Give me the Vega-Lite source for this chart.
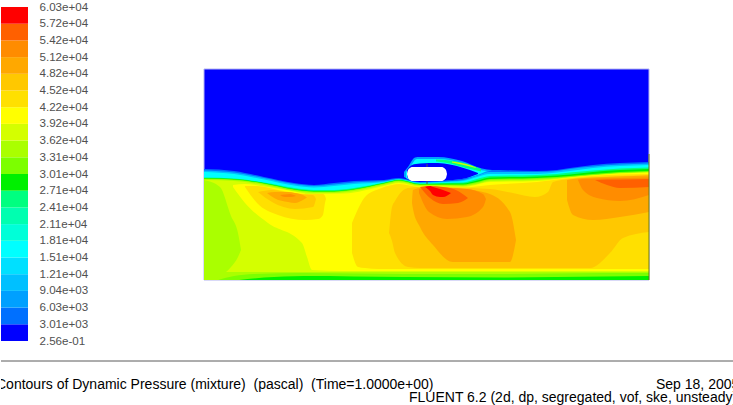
{"$schema":"https://vega.github.io/schema/vega-lite/v6.json","background":"white","padding":{"left":0,"top":1,"right":0,"bottom":0},"config":{"view":{"stroke":null},"font":"Liberation Sans"},"spacing":13,
"datasets":{"contours":[
{"r":"b1","l":"c1","x":0,"y":100,"y2":211},{"r":"b1","l":"c1","x":30,"y":102,"y2":211},{"r":"b1","l":"c1","x":60,"y":108,"y2":211},{"r":"b1","l":"c1","x":90,"y":114,"y2":211},{"r":"b1","l":"c1","x":110,"y":116,"y2":211},{"r":"b1","l":"c1","x":130,"y":114,"y2":211},{"r":"b1","l":"c1","x":150,"y":112,"y2":211},{"r":"b1","l":"c1","x":180,"y":111,"y2":211},{"r":"b1","l":"c1","x":195,"y":109,"y2":211},{"r":"b1","l":"c1","x":216,"y":113,"y2":211},{"r":"b1","l":"c1","x":236,"y":112,"y2":211},{"r":"b1","l":"c1","x":259,"y":110,"y2":211},{"r":"b1","l":"c1","x":273,"y":105,"y2":211},{"r":"b1","l":"c1","x":286,"y":101,"y2":211},{"r":"b1","l":"c1","x":333,"y":102,"y2":211},{"r":"b1","l":"c1","x":353,"y":101,"y2":211},{"r":"b1","l":"c1","x":366,"y":99,"y2":211},{"r":"b1","l":"c1","x":389,"y":96,"y2":211},{"r":"b1","l":"c1","x":416,"y":94,"y2":211},{"r":"b1","l":"c1","x":445,"y":93,"y2":211},
{"r":"b2","l":"c3","x":0,"y":101.5,"y2":211},{"r":"b2","l":"c3","x":30,"y":103.5,"y2":211},{"r":"b2","l":"c3","x":60,"y":109,"y2":211},{"r":"b2","l":"c3","x":90,"y":115,"y2":211},{"r":"b2","l":"c3","x":110,"y":117,"y2":211},{"r":"b2","l":"c3","x":130,"y":115.5,"y2":211},{"r":"b2","l":"c3","x":150,"y":113.5,"y2":211},{"r":"b2","l":"c3","x":180,"y":112,"y2":211},{"r":"b2","l":"c3","x":195,"y":110,"y2":211},{"r":"b2","l":"c3","x":216,"y":113.5,"y2":211},{"r":"b2","l":"c3","x":236,"y":112.7,"y2":211},{"r":"b2","l":"c3","x":259,"y":111,"y2":211},{"r":"b2","l":"c3","x":273,"y":106.5,"y2":211},{"r":"b2","l":"c3","x":286,"y":103,"y2":211},{"r":"b2","l":"c3","x":333,"y":103,"y2":211},{"r":"b2","l":"c3","x":353,"y":102,"y2":211},{"r":"b2","l":"c3","x":366,"y":100,"y2":211},{"r":"b2","l":"c3","x":389,"y":97.5,"y2":211},{"r":"b2","l":"c3","x":416,"y":95.5,"y2":211},{"r":"b2","l":"c3","x":445,"y":94.5,"y2":211},
{"r":"b3","l":"c5","x":0,"y":103,"y2":211},{"r":"b3","l":"c5","x":30,"y":105,"y2":211},{"r":"b3","l":"c5","x":60,"y":110.5,"y2":211},{"r":"b3","l":"c5","x":90,"y":116.5,"y2":211},{"r":"b3","l":"c5","x":110,"y":118.5,"y2":211},{"r":"b3","l":"c5","x":130,"y":117,"y2":211},{"r":"b3","l":"c5","x":150,"y":115,"y2":211},{"r":"b3","l":"c5","x":180,"y":113,"y2":211},{"r":"b3","l":"c5","x":195,"y":110.5,"y2":211},{"r":"b3","l":"c5","x":216,"y":114,"y2":211},{"r":"b3","l":"c5","x":236,"y":113.3,"y2":211},{"r":"b3","l":"c5","x":259,"y":112,"y2":211},{"r":"b3","l":"c5","x":273,"y":108,"y2":211},{"r":"b3","l":"c5","x":286,"y":105,"y2":211},{"r":"b3","l":"c5","x":333,"y":105,"y2":211},{"r":"b3","l":"c5","x":353,"y":103.5,"y2":211},{"r":"b3","l":"c5","x":366,"y":102,"y2":211},{"r":"b3","l":"c5","x":389,"y":99,"y2":211},{"r":"b3","l":"c5","x":416,"y":97,"y2":211},{"r":"b3","l":"c5","x":445,"y":96,"y2":211},
{"r":"b4","l":"c8","x":0,"y":108.5,"y2":211},{"r":"b4","l":"c8","x":30,"y":109.5,"y2":211},{"r":"b4","l":"c8","x":60,"y":113.5,"y2":211},{"r":"b4","l":"c8","x":90,"y":119,"y2":211},{"r":"b4","l":"c8","x":110,"y":121,"y2":211},{"r":"b4","l":"c8","x":130,"y":121,"y2":211},{"r":"b4","l":"c8","x":150,"y":119,"y2":211},{"r":"b4","l":"c8","x":180,"y":113.5,"y2":211},{"r":"b4","l":"c8","x":195,"y":110.5,"y2":211},{"r":"b4","l":"c8","x":216,"y":114.5,"y2":211},{"r":"b4","l":"c8","x":236,"y":114,"y2":211},{"r":"b4","l":"c8","x":259,"y":113.5,"y2":211},{"r":"b4","l":"c8","x":273,"y":110,"y2":211},{"r":"b4","l":"c8","x":286,"y":107,"y2":211},{"r":"b4","l":"c8","x":333,"y":106,"y2":211},{"r":"b4","l":"c8","x":353,"y":105,"y2":211},{"r":"b4","l":"c8","x":366,"y":103.5,"y2":211},{"r":"b4","l":"c8","x":389,"y":101.5,"y2":211},{"r":"b4","l":"c8","x":416,"y":99.5,"y2":211},{"r":"b4","l":"c8","x":445,"y":98.5,"y2":211},
{"r":"b5","l":"c9","x":0,"y":109,"y2":211},{"r":"b5","l":"c9","x":30,"y":110,"y2":211},{"r":"b5","l":"c9","x":60,"y":114,"y2":211},{"r":"b5","l":"c9","x":90,"y":120,"y2":211},{"r":"b5","l":"c9","x":110,"y":122,"y2":211},{"r":"b5","l":"c9","x":130,"y":122,"y2":211},{"r":"b5","l":"c9","x":150,"y":120,"y2":211},{"r":"b5","l":"c9","x":180,"y":114,"y2":211},{"r":"b5","l":"c9","x":195,"y":111,"y2":211},{"r":"b5","l":"c9","x":216,"y":115,"y2":211},{"r":"b5","l":"c9","x":236,"y":114.7,"y2":211},{"r":"b5","l":"c9","x":259,"y":114.5,"y2":211},{"r":"b5","l":"c9","x":273,"y":111.5,"y2":211},{"r":"b5","l":"c9","x":286,"y":108.5,"y2":211},{"r":"b5","l":"c9","x":333,"y":107.5,"y2":211},{"r":"b5","l":"c9","x":353,"y":106.5,"y2":211},{"r":"b5","l":"c9","x":366,"y":105.5,"y2":211},{"r":"b5","l":"c9","x":389,"y":103,"y2":211},{"r":"b5","l":"c9","x":416,"y":101,"y2":211},{"r":"b5","l":"c9","x":445,"y":100,"y2":211},
{"r":"b6","l":"c10","x":0,"y":109.5,"y2":211},{"r":"b6","l":"c10","x":30,"y":110.5,"y2":211},{"r":"b6","l":"c10","x":60,"y":114.5,"y2":211},{"r":"b6","l":"c10","x":90,"y":120.5,"y2":211},{"r":"b6","l":"c10","x":110,"y":122.5,"y2":211},{"r":"b6","l":"c10","x":130,"y":122.5,"y2":211},{"r":"b6","l":"c10","x":150,"y":120.5,"y2":211},{"r":"b6","l":"c10","x":180,"y":114.5,"y2":211},{"r":"b6","l":"c10","x":195,"y":111.5,"y2":211},{"r":"b6","l":"c10","x":216,"y":115.5,"y2":211},{"r":"b6","l":"c10","x":236,"y":115.5,"y2":211},{"r":"b6","l":"c10","x":259,"y":115.5,"y2":211},{"r":"b6","l":"c10","x":273,"y":113,"y2":211},{"r":"b6","l":"c10","x":286,"y":110,"y2":211},{"r":"b6","l":"c10","x":333,"y":109,"y2":211},{"r":"b6","l":"c10","x":353,"y":108,"y2":211},{"r":"b6","l":"c10","x":366,"y":107,"y2":211},{"r":"b6","l":"c10","x":389,"y":105,"y2":211},{"r":"b6","l":"c10","x":416,"y":103,"y2":211},{"r":"b6","l":"c10","x":445,"y":102,"y2":211},
{"r":"b7","l":"c11","x":0,"y":110,"y2":211},{"r":"b7","l":"c11","x":30,"y":111,"y2":211},{"r":"b7","l":"c11","x":60,"y":115,"y2":211},{"r":"b7","l":"c11","x":90,"y":121,"y2":211},{"r":"b7","l":"c11","x":110,"y":123,"y2":211},{"r":"b7","l":"c11","x":130,"y":123,"y2":211},{"r":"b7","l":"c11","x":150,"y":121,"y2":211},{"r":"b7","l":"c11","x":180,"y":115,"y2":211},{"r":"b7","l":"c11","x":195,"y":112,"y2":211},{"r":"b7","l":"c11","x":216,"y":116,"y2":211},{"r":"b7","l":"c11","x":236,"y":116,"y2":211},{"r":"b7","l":"c11","x":259,"y":116.5,"y2":211},{"r":"b7","l":"c11","x":273,"y":114,"y2":211},{"r":"b7","l":"c11","x":286,"y":111,"y2":211},{"r":"b7","l":"c11","x":333,"y":110,"y2":211},{"r":"b7","l":"c11","x":353,"y":109,"y2":211},{"r":"b7","l":"c11","x":366,"y":108,"y2":211},{"r":"b7","l":"c11","x":389,"y":106,"y2":211},{"r":"b7","l":"c11","x":416,"y":104,"y2":211},{"r":"b7","l":"c11","x":445,"y":103,"y2":211},
{"r":"g12","l":"c12","x":0,"y":111,"y2":203},{"r":"g12","l":"c12","x":30,"y":112,"y2":203},{"r":"g12","l":"c12","x":60,"y":116,"y2":203},{"r":"g12","l":"c12","x":90,"y":122,"y2":203},{"r":"g12","l":"c12","x":110,"y":124,"y2":203},{"r":"g12","l":"c12","x":130,"y":124,"y2":203},{"r":"g12","l":"c12","x":150,"y":122,"y2":203},{"r":"g12","l":"c12","x":180,"y":116,"y2":203},{"r":"g12","l":"c12","x":195,"y":113,"y2":203},{"r":"g12","l":"c12","x":216,"y":116.5,"y2":203},{"r":"g12","l":"c12","x":236,"y":116.5,"y2":203},{"r":"g12","l":"c12","x":259,"y":117,"y2":203},{"r":"g12","l":"c12","x":273,"y":115,"y2":203},{"r":"g12","l":"c12","x":286,"y":112,"y2":203},{"r":"g12","l":"c12","x":333,"y":111,"y2":203},{"r":"g12","l":"c12","x":353,"y":109.5,"y2":203},{"r":"g12","l":"c12","x":366,"y":108.3,"y2":203},{"r":"g12","l":"c12","x":389,"y":106.3,"y2":203},{"r":"g12","l":"c12","x":416,"y":104.3,"y2":203},{"r":"g12","l":"c12","x":445,"y":103.3,"y2":203},
{"r":"left","l":"c11","x":0,"y":111,"y2":211},{"r":"left","l":"c11","x":16,"y":118,"y2":207},{"r":"left","l":"c11","x":27,"y":147,"y2":198},{"r":"left","l":"c11","x":34,"y":164,"y2":188},{"r":"left","l":"c11","x":37,"y":181,"y2":181},
{"r":"g13","l":"c13","x":29,"y":116,"y2":118},{"r":"g13","l":"c13","x":41,"y":115,"y2":134},{"r":"g13","l":"c13","x":64,"y":118,"y2":154},{"r":"g13","l":"c13","x":98,"y":124,"y2":174},{"r":"g13","l":"c13","x":103,"y":125,"y2":188},{"r":"g13","l":"c13","x":108,"y":125,"y2":201},{"r":"g13","l":"c13","x":140,"y":124.5,"y2":202},{"r":"g13","l":"c13","x":180,"y":117,"y2":202},{"r":"g13","l":"c13","x":195,"y":114,"y2":202},{"r":"g13","l":"c13","x":216,"y":117.5,"y2":202},{"r":"g13","l":"c13","x":259,"y":118,"y2":202},{"r":"g13","l":"c13","x":286,"y":113,"y2":202},{"r":"g13","l":"c13","x":333,"y":112,"y2":202},{"r":"g13","l":"c13","x":366,"y":108.5,"y2":202},{"r":"g13","l":"c13","x":416,"y":104.5,"y2":202},{"r":"g13","l":"c13","x":445,"y":103.5,"y2":202},
{"r":"g14","l":"c14","x":148,"y":154,"y2":184},{"r":"g14","l":"c14","x":154,"y":140,"y2":198},{"r":"g14","l":"c14","x":161,"y":128,"y2":199},{"r":"g14","l":"c14","x":175,"y":120,"y2":200},{"r":"g14","l":"c14","x":188,"y":116,"y2":200},{"r":"g14","l":"c14","x":195,"y":115,"y2":200},{"r":"g14","l":"c14","x":216,"y":118,"y2":200},{"r":"g14","l":"c14","x":259,"y":118.5,"y2":200},{"r":"g14","l":"c14","x":286,"y":116,"y2":200},{"r":"g14","l":"c14","x":333,"y":113,"y2":200},{"r":"g14","l":"c14","x":366,"y":109,"y2":200},{"r":"g14","l":"c14","x":416,"y":105.5,"y2":200},{"r":"g14","l":"c14","x":445,"y":105,"y2":200},
{"r":"g15","l":"c15","x":185,"y":164,"y2":164},{"r":"g15","l":"c15","x":188,"y":138,"y2":172},{"r":"g15","l":"c15","x":191,"y":132,"y2":184},{"r":"g15","l":"c15","x":204,"y":119,"y2":198},{"r":"g15","l":"c15","x":216,"y":118,"y2":199},{"r":"g15","l":"c15","x":249,"y":118.5,"y2":199},{"r":"g15","l":"c15","x":286,"y":120,"y2":199},{"r":"g15","l":"c15","x":309,"y":124,"y2":199},{"r":"g15","l":"c15","x":331,"y":128,"y2":199},{"r":"g15","l":"c15","x":344,"y":123,"y2":199},{"r":"g15","l":"c15","x":349,"y":113,"y2":199},{"r":"g15","l":"c15","x":366,"y":110,"y2":199},{"r":"g15","l":"c15","x":386,"y":108.5,"y2":199},{"r":"g15","l":"c15","x":406,"y":107.5,"y2":184},{"r":"g15","l":"c15","x":419,"y":107,"y2":169},{"r":"g15","l":"c15","x":445,"y":106,"y2":163},
{"r":"g16","l":"c16","x":208,"y":134,"y2":134},{"r":"g16","l":"c16","x":209,"y":121,"y2":140},{"r":"g16","l":"c16","x":216,"y":119,"y2":158},{"r":"g16","l":"c16","x":229,"y":118,"y2":176},{"r":"g16","l":"c16","x":249,"y":119,"y2":193},{"r":"g16","l":"c16","x":283,"y":124,"y2":193},{"r":"g16","l":"c16","x":306,"y":143,"y2":193},{"r":"g16","l":"c16","x":312,"y":171,"y2":171},
{"r":"g17","l":"c17","x":215,"y":120,"y2":124},{"r":"g17","l":"c17","x":225,"y":118.5,"y2":143},{"r":"g17","l":"c17","x":243,"y":119,"y2":150},{"r":"g17","l":"c17","x":263,"y":120,"y2":148},{"r":"g17","l":"c17","x":279,"y":125,"y2":138},{"r":"g17","l":"c17","x":282,"y":130,"y2":130},
{"r":"g18","l":"c18","x":216,"y":118,"y2":118},{"r":"g18","l":"c18","x":226,"y":117,"y2":129},{"r":"g18","l":"c18","x":239,"y":118,"y2":135},{"r":"g18","l":"c18","x":254,"y":122,"y2":134},{"r":"g18","l":"c18","x":264,"y":129,"y2":129},
{"r":"g19","l":"c19","x":221,"y":118,"y2":118},{"r":"g19","l":"c19","x":226,"y":117,"y2":122},{"r":"g19","l":"c19","x":229,"y":118,"y2":126},{"r":"g19","l":"c19","x":236,"y":120,"y2":128},{"r":"g19","l":"c19","x":239,"y":121,"y2":128},{"r":"g19","l":"c19","x":247,"y":124,"y2":124},
{"r":"h14","l":"c14","x":41,"y":117,"y2":118},{"r":"h14","l":"c14","x":53,"y":117,"y2":134},{"r":"h14","l":"c14","x":74,"y":121,"y2":146},{"r":"h14","l":"c14","x":101,"y":125,"y2":151},{"r":"h14","l":"c14","x":114,"y":125,"y2":150},{"r":"h14","l":"c14","x":119,"y":125,"y2":146},{"r":"h14","l":"c14","x":121,"y":127,"y2":134},{"r":"h14","l":"c14","x":122,"y":130,"y2":130},
{"r":"h15","l":"c15","x":54,"y":123,"y2":123},{"r":"h15","l":"c15","x":68,"y":121,"y2":133},{"r":"h15","l":"c15","x":91,"y":125,"y2":140},{"r":"h15","l":"c15","x":109,"y":126,"y2":138},{"r":"h15","l":"c15","x":112,"y":130,"y2":130},
{"r":"h16","l":"c16","x":63,"y":124,"y2":124},{"r":"h16","l":"c16","x":71,"y":123,"y2":129.5},{"r":"h16","l":"c16","x":84,"y":123,"y2":133},{"r":"h16","l":"c16","x":91,"y":124,"y2":134},{"r":"h16","l":"c16","x":99,"y":126,"y2":131},{"r":"h16","l":"c16","x":103,"y":128.5,"y2":128.5},
{"r":"h17","l":"c17","x":76,"y":126,"y2":126},{"r":"h17","l":"c17","x":81,"y":125.5,"y2":128},{"r":"h17","l":"c17","x":86,"y":125,"y2":128},{"r":"h17","l":"c17","x":92,"y":127,"y2":127},
{"r":"k16","l":"c16","x":363,"y":111,"y2":131},{"r":"k16","l":"c16","x":369,"y":110,"y2":146},{"r":"k16","l":"c16","x":389,"y":108.5,"y2":151},{"r":"k16","l":"c16","x":416,"y":107.5,"y2":148},{"r":"k16","l":"c16","x":445,"y":106.5,"y2":143},
{"r":"k17","l":"c17","x":374,"y":110.5,"y2":111},{"r":"k17","l":"c17","x":379,"y":110,"y2":121},{"r":"k17","l":"c17","x":393,"y":109.5,"y2":129},{"r":"k17","l":"c17","x":416,"y":109,"y2":132},{"r":"k17","l":"c17","x":445,"y":108.5,"y2":126},
{"r":"k18","l":"c18","x":391,"y":111,"y2":111},{"r":"k18","l":"c18","x":403,"y":110.5,"y2":116},{"r":"k18","l":"c18","x":416,"y":110.5,"y2":119},{"r":"k18","l":"c18","x":445,"y":110,"y2":118},
{"r":"s10","l":"c10","x":14,"y":211,"y2":211},{"r":"s10","l":"c10","x":30,"y":207,"y2":211},{"r":"s10","l":"c10","x":50,"y":205,"y2":211},{"r":"s10","l":"c10","x":100,"y":204,"y2":211},{"r":"s10","l":"c10","x":200,"y":205,"y2":211},{"r":"s10","l":"c10","x":300,"y":205,"y2":211},{"r":"s10","l":"c10","x":400,"y":204,"y2":211},{"r":"s10","l":"c10","x":445,"y":204,"y2":211},
{"r":"s9","l":"c9","x":35,"y":211,"y2":211},{"r":"s9","l":"c9","x":60,"y":208.5,"y2":211},{"r":"s9","l":"c9","x":100,"y":207,"y2":211},{"r":"s9","l":"c9","x":200,"y":208,"y2":211},{"r":"s9","l":"c9","x":300,"y":208.5,"y2":211},{"r":"s9","l":"c9","x":400,"y":207.5,"y2":211},{"r":"s9","l":"c9","x":445,"y":207,"y2":211},
{"r":"a1","l":"c2","x":200,"y":103,"y2":108},{"r":"a1","l":"c2","x":204,"y":98,"y2":110},{"r":"a1","l":"c2","x":211,"y":88.5,"y2":112},{"r":"a1","l":"c2","x":216,"y":88,"y2":113},{"r":"a1","l":"c2","x":234,"y":88,"y2":112},{"r":"a1","l":"c2","x":258,"y":92,"y2":110},{"r":"a1","l":"c2","x":278,"y":99.5,"y2":105},{"r":"a1","l":"c2","x":288,"y":101,"y2":101},
{"r":"a2","l":"c5","x":202,"y":103,"y2":109},{"r":"a2","l":"c5","x":206,"y":98,"y2":111},{"r":"a2","l":"c5","x":213,"y":90,"y2":113},{"r":"a2","l":"c5","x":234,"y":90,"y2":112},{"r":"a2","l":"c5","x":258,"y":94,"y2":110},{"r":"a2","l":"c5","x":276,"y":101,"y2":105},{"r":"a2","l":"c5","x":283,"y":102,"y2":102},
{"r":"a3","l":"c8","x":232,"y":90.5,"y2":92.5},{"r":"a3","l":"c8","x":246,"y":91.5,"y2":94.5},{"r":"a3","l":"c8","x":262,"y":94.5,"y2":99},{"r":"a3","l":"c8","x":277,"y":100,"y2":102.5},
{"r":"a4","l":"c12","x":248,"y":92.5,"y2":93.5},{"r":"a4","l":"c12","x":262,"y":95,"y2":96.5},{"r":"a4","l":"c12","x":272,"y":98.5,"y2":99},
{"r":"a5","l":"c0","x":203,"y":101,"y2":108},{"r":"a5","l":"c0","x":208,"y":96,"y2":112},{"r":"a5","l":"c0","x":216,"y":94.5,"y2":113},{"r":"a5","l":"c0","x":234,"y":94,"y2":112},{"r":"a5","l":"c0","x":258,"y":98.5,"y2":110},{"r":"a5","l":"c0","x":274,"y":104,"y2":105},
{"r":"body","l":"body","x":203,"y":105,"y2":105},{"r":"body","l":"body","x":204,"y":101,"y2":109},{"r":"body","l":"body","x":206,"y":99,"y2":111},{"r":"body","l":"body","x":208,"y":98,"y2":112},{"r":"body","l":"body","x":238,"y":98,"y2":112},{"r":"body","l":"body","x":240,"y":99,"y2":111},{"r":"body","l":"body","x":242,"y":101,"y2":109},{"r":"body","l":"body","x":243,"y":105,"y2":105}
],
"bar":[{"l":"c0","lo":0,"hi":1},{"l":"c1","lo":1,"hi":2},{"l":"c2","lo":2,"hi":3},{"l":"c3","lo":3,"hi":4},{"l":"c4","lo":4,"hi":5},{"l":"c5","lo":5,"hi":6},{"l":"c6","lo":6,"hi":7},{"l":"c7","lo":7,"hi":8},{"l":"c8","lo":8,"hi":9},{"l":"c9","lo":9,"hi":10},{"l":"c10","lo":10,"hi":11},{"l":"c11","lo":11,"hi":12},{"l":"c12","lo":12,"hi":13},{"l":"c13","lo":13,"hi":14},{"l":"c14","lo":14,"hi":15},{"l":"c15","lo":15,"hi":16},{"l":"c16","lo":16,"hi":17},{"l":"c17","lo":17,"hi":18},{"l":"c18","lo":18,"hi":19},{"l":"c19","lo":19,"hi":20}],
"footer":[{"col":-5,"row":24,"t":"Contours of Dynamic Pressure (mixture)\u00a0 (pascal)\u00a0 (Time=1.0000e+00)"},{"col":655,"row":24,"t":"Sep 18, 2005"},{"col":408,"row":37,"t":"FLUENT 6.2 (2d, dp, segregated, vof, ske, unsteady)"}]
},
"vconcat":[
{"bounds":"flush","spacing":176,"hconcat":[
{"width":27,"height":334,"data":{"name":"bar"},"mark":"rect","encoding":{
"x":{"datum":0,"type":"quantitative","scale":{"domain":[0,1]},"axis":null},
"x2":{"datum":1},
"y":{"field":"lo","type":"quantitative","scale":{"domain":[0,20],"nice":false,"zero":false},"axis":{"orient":"right","title":null,"values":[0,1,2,3,4,5,6,7,8,9,10,11,12,13,14,15,16,17,18,19,20],"ticks":false,"domain":false,"grid":false,"labelPadding":11,"labelFontSize":11.6,"labelColor":"#505050","labelOverlap":false,"labelFlush":false,"labelExpr":"['2.56e-01','3.01e+03','6.03e+03','9.04e+03','1.21e+04','1.51e+04','1.81e+04','2.11e+04','2.41e+04','2.71e+04','3.01e+04','3.31e+04','3.62e+04','3.92e+04','4.22e+04','4.52e+04','4.82e+04','5.12e+04','5.42e+04','5.72e+04','6.03e+04'][datum.value]"}},
"y2":{"field":"hi"},
"color":{"field":"l","type":"nominal","legend":null,"scale":{"domain":["c0","c1","c2","c3","c4","c5","c6","c7","c8","c9","c10","c11","c12","c13","c14","c15","c16","c17","c18","c19"],"range":["#0000ff","#0070ff","#00a0ff","#00c0ff","#00e0ff","#00ffff","#00ffd8","#00ffb0","#00ff80","#00f000","#7cff00","#aaff00","#d4ff00","#ffff00","#ffe000","#ffc800","#ffa800","#ff8c00","#ff6000","#ff0000"]}}
}},
{"width":445,"height":334,"layer":[
{"data":{"values":[{"a":0,"b":445,"c":0,"d":211}]},"mark":{"type":"rect","fill":"#0000ff","stroke":"#b4b4f0","strokeWidth":1},"encoding":{"x":{"field":"a","type":"quantitative","scale":{"domain":[0,445],"nice":false,"zero":false},"axis":null},"x2":{"field":"b"},"y":{"field":"c","type":"quantitative","scale":{"domain":[-62,272],"reverse":true,"nice":false,"zero":false},"axis":null},"y2":{"field":"d"}}},
{"data":{"name":"contours"},"mark":{"type":"area","interpolate":"monotone"},"encoding":{
"x":{"field":"x","type":"quantitative","scale":{"domain":[0,445],"nice":false,"zero":false},"axis":null},
"y":{"field":"y","type":"quantitative","stack":null,"scale":{"domain":[-62,272],"reverse":true,"nice":false,"zero":false},"axis":null},
"y2":{"field":"y2"},
"detail":{"field":"r"},
"color":{"field":"l","type":"nominal","legend":null,"scale":{"domain":["c0","c1","c2","c3","c4","c5","c6","c7","c8","c9","c10","c11","c12","c13","c14","c15","c16","c17","c18","c19","body"],"range":["#0000ff","#0070ff","#00a0ff","#00c0ff","#00e0ff","#00ffff","#00ffd8","#00ffb0","#00ff80","#00f000","#7cff00","#aaff00","#d4ff00","#ffff00","#ffe000","#ffc800","#ffa800","#ff8c00","#ff6000","#ff0000","#ffffff"]}}
}},
{"data":{"values":[{"x":223,"y":95,"y2":98},{"x":223,"y":112,"y2":115}]},"mark":{"type":"rule","color":"#555555","strokeWidth":1},"encoding":{"x":{"field":"x","type":"quantitative"},"y":{"field":"y","type":"quantitative"},"y2":{"field":"y2"}}},
{"data":{"values":[{"x":445,"y":85,"y2":211}]},"mark":{"type":"rule","color":"#6e7a10","strokeWidth":1},"encoding":{"x":{"field":"x","type":"quantitative"},"y":{"field":"y","type":"quantitative"},"y2":{"field":"y2"}}}
],"resolve":{"scale":{"color":"independent"}}}
]},
{"width":733,"height":44,"layer":[
{"data":{"values":[{"a":0,"b":733,"c":0}]},"mark":{"type":"rule","color":"#5a5a5a","strokeWidth":1},"encoding":{"x":{"field":"a","type":"quantitative","scale":{"domain":[0,733],"nice":false,"zero":false},"axis":null},"x2":{"field":"b"},"y":{"field":"c","type":"quantitative","scale":{"domain":[44,0],"nice":false,"zero":false},"axis":null}}},
{"data":{"name":"footer"},"mark":{"type":"text","align":"left","baseline":"middle","clip":true,"fontSize":14,"color":"#000000"},"encoding":{"x":{"field":"col","type":"quantitative"},"y":{"field":"row","type":"quantitative"},"text":{"field":"t"}}}
]}
]}
